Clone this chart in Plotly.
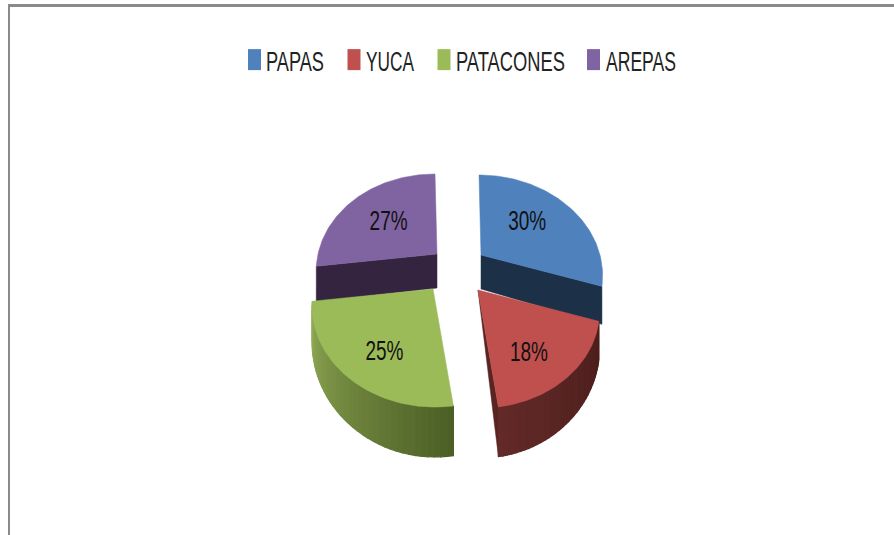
import numpy as np
import plotly.graph_objects as go

labels = ["PAPAS", "YUCA", "PATACONES", "AREPAS"]
values = [30, 18, 25, 27]
face_colors = ["#4f81bd", "#c0504d", "#9bbb59", "#8064a2"]

# where each exploded slice has its tip, in screen pixels
tips = {"PAPAS": (481, 255), "YUCA": (478, 290), "PATACONES": (433, 289), "AREPAS": (437, 254)}
# percent label placement on each face: angle, fraction of radius
label_spots = {"PAPAS": (50, 0.55), "YUCA": (148, 0.7), "PATACONES": (212, 0.7), "AREPAS": (309, 0.55)}

# look of the fake 3d view
RX = 119
RY = 95.4
PERSP = 0.192
DEPTH = 34
LEAN = 2

FONT = "Liberation Sans"

# no condensed font here, so squeeze the real text after drawing and
# put the legend entries where they belong
POST_JS = """
document.body.style.margin = '0';
var gd = document.querySelector('.plotly-graph-div');
var textLeft = [266, 366, 456, 606], textWidth = [58, 48, 109, 70], iconMid = [254.5, 354, 444, 593.5];
function squeeze(t, width) {
    var sx = width / t.getComputedTextLength();
    var x = parseFloat(t.getAttribute('x')) || 0;
    t.setAttribute('transform', 'matrix(' + sx + ',0,0,1,' + (x * (1 - sx)) + ',0)');
}
gd.querySelectorAll('.textpoint text').forEach(function (t) { squeeze(t, 38); });
gd.querySelectorAll('.legend .traces').forEach(function (item, i) {
    var t = item.querySelector('.legendtext');
    squeeze(t, textWidth[i]);
    var m = /translate\\(([-\\d.]+),\\s*([-\\d.]+)\\)/.exec(item.getAttribute('transform'));
    var dx = textLeft[i] - t.getBoundingClientRect().left;
    item.setAttribute('transform', 'translate(' + (parseFloat(m[1]) + dx) + ',' + m[2] + ')');
    var p = item.querySelector('.legendpoints path');
    p.setAttribute('d', 'M-6.5,-10.5H6.5V10.5H-6.5Z');
    var r = p.getBoundingClientRect();
    item.querySelector('.legendpoints').setAttribute('transform',
        'translate(' + (iconMid[i] - (r.left + r.right) / 2) + ',0)');
});
"""


def project(tip, deg, r=1.0):
    """Clockwise angle from 12 o'clock to a screen point, plus its wall height."""
    a = np.radians(deg)
    fx = r * np.sin(a)
    fy = -r * np.cos(a)
    w = 1 - PERSP * fy
    x = tip[0] + RX * fx / w + LEAN * fy
    y = tip[1] + RY * fy / w
    return x, y, DEPTH / w ** 1.8


def polygon(xs, ys, color, width=0.5):
    return go.Scatter(x=xs, y=ys, mode="lines", fill="toself", fillcolor=color,
                      line=dict(color=color, width=width), hoverinfo="skip", showlegend=False)


def blend(c1, c2, t):
    return "rgb(%d,%d,%d)" % tuple(c1[i] + (c2[i] - c1[i]) * t for i in range(3))


def radial_wall(tip, deg, color):
    x0, y0, h0 = project(tip, deg, 0)
    x1, y1, h1 = project(tip, deg)
    return polygon([x0, x1, x1, x0, x0], [y0, y1, y1 + h1, y0 + h0, y0], color)


def rim_wall(tip, start, stop, c1, c2, n=36):
    # strips so the outer wall gets its shading
    traces = []
    angs = np.linspace(start, stop, n + 1)
    for i in range(n):
        x0, y0, h0 = project(tip, angs[i])
        x1, y1, h1 = project(tip, angs[i + 1])
        traces.append(polygon([x0, x1, x1, x0, x0], [y0, y1, y1 + h1, y0 + h0, y0],
                              blend(c1, c2, i / (n - 1)), width=1.2))
    return traces


def top_face(tip, start, stop, color):
    angs = np.linspace(start, stop, 80)
    pts = [project(tip, a) for a in angs]
    tx, ty, _ = project(tip, 0, 0)
    return polygon([tx] + [p[0] for p in pts] + [tx], [ty] + [p[1] for p in pts] + [ty], color)


edges = np.cumsum([0] + values) * 3.6
slice_angle = {lab: (edges[i], edges[i + 1]) for i, lab in enumerate(labels)}
color_of = dict(zip(labels, face_colors))

fig = go.Figure()

# back to front
s, e = slice_angle["AREPAS"]
fig.add_trace(radial_wall(tips["AREPAS"], s, "#35243f"))
fig.add_trace(top_face(tips["AREPAS"], s, e, color_of["AREPAS"]))

s, e = slice_angle["PAPAS"]
fig.add_trace(radial_wall(tips["PAPAS"], e, "#1c3148"))
fig.add_trace(top_face(tips["PAPAS"], s, e, color_of["PAPAS"]))

s, e = slice_angle["YUCA"]
tx, ty, _ = project(tips["YUCA"], 0, 0)
rx, ry, rh = project(tips["YUCA"], e)
fig.add_trace(polygon([tx, rx, rx, tx], [ty, ry, ry + rh, ty], "#5a2422"))
fig.add_traces(rim_wall(tips["YUCA"], s, e, (76, 30, 28), (98, 42, 40)))
fig.add_trace(top_face(tips["YUCA"], s, e, color_of["YUCA"]))

s, e = slice_angle["PATACONES"]
fig.add_traces(rim_wall(tips["PATACONES"], s, e, (76, 96, 38), (146, 172, 86)))
fig.add_trace(top_face(tips["PATACONES"], s, e, color_of["PATACONES"]))

# percent labels sit on the top faces
for i, lab in enumerate(labels):
    lx, ly, _ = project(tips[lab], *label_spots[lab])
    fig.add_trace(go.Scatter(x=[lx], y=[ly], mode="text", text=[f"{values[i]}%"],
                             textfont=dict(family=FONT, size=28, color="#111111"),
                             hoverinfo="skip", showlegend=False))

# legend entries
for lab, col in zip(labels, face_colors):
    fig.add_trace(go.Scatter(x=[None], y=[None], mode="markers", name=lab,
                             marker=dict(symbol="square", size=14, color=col)))

# frame left over from the screenshot
fig.add_shape(type="line", x0=8, x1=894, y0=5.5, y1=5.5, line=dict(color="#8a8a8a", width=3))
fig.add_shape(type="line", x0=9, x1=9, y0=4, y1=535, line=dict(color="#8a8a8a", width=2))

fig.update_layout(
    width=894,
    height=535,
    margin=dict(l=0, r=0, t=0, b=0),
    paper_bgcolor="white",
    plot_bgcolor="white",
    legend=dict(orientation="h", x=0.5, xanchor="center", y=0.888, yanchor="middle",
                font=dict(family=FONT, size=28, color="#222222")),
)
fig.update_xaxes(range=[0, 894], visible=False)
fig.update_yaxes(range=[535, 0], visible=False)

fig.write_html("out.html", post_script=POST_JS, config={"displayModeBar": False})
